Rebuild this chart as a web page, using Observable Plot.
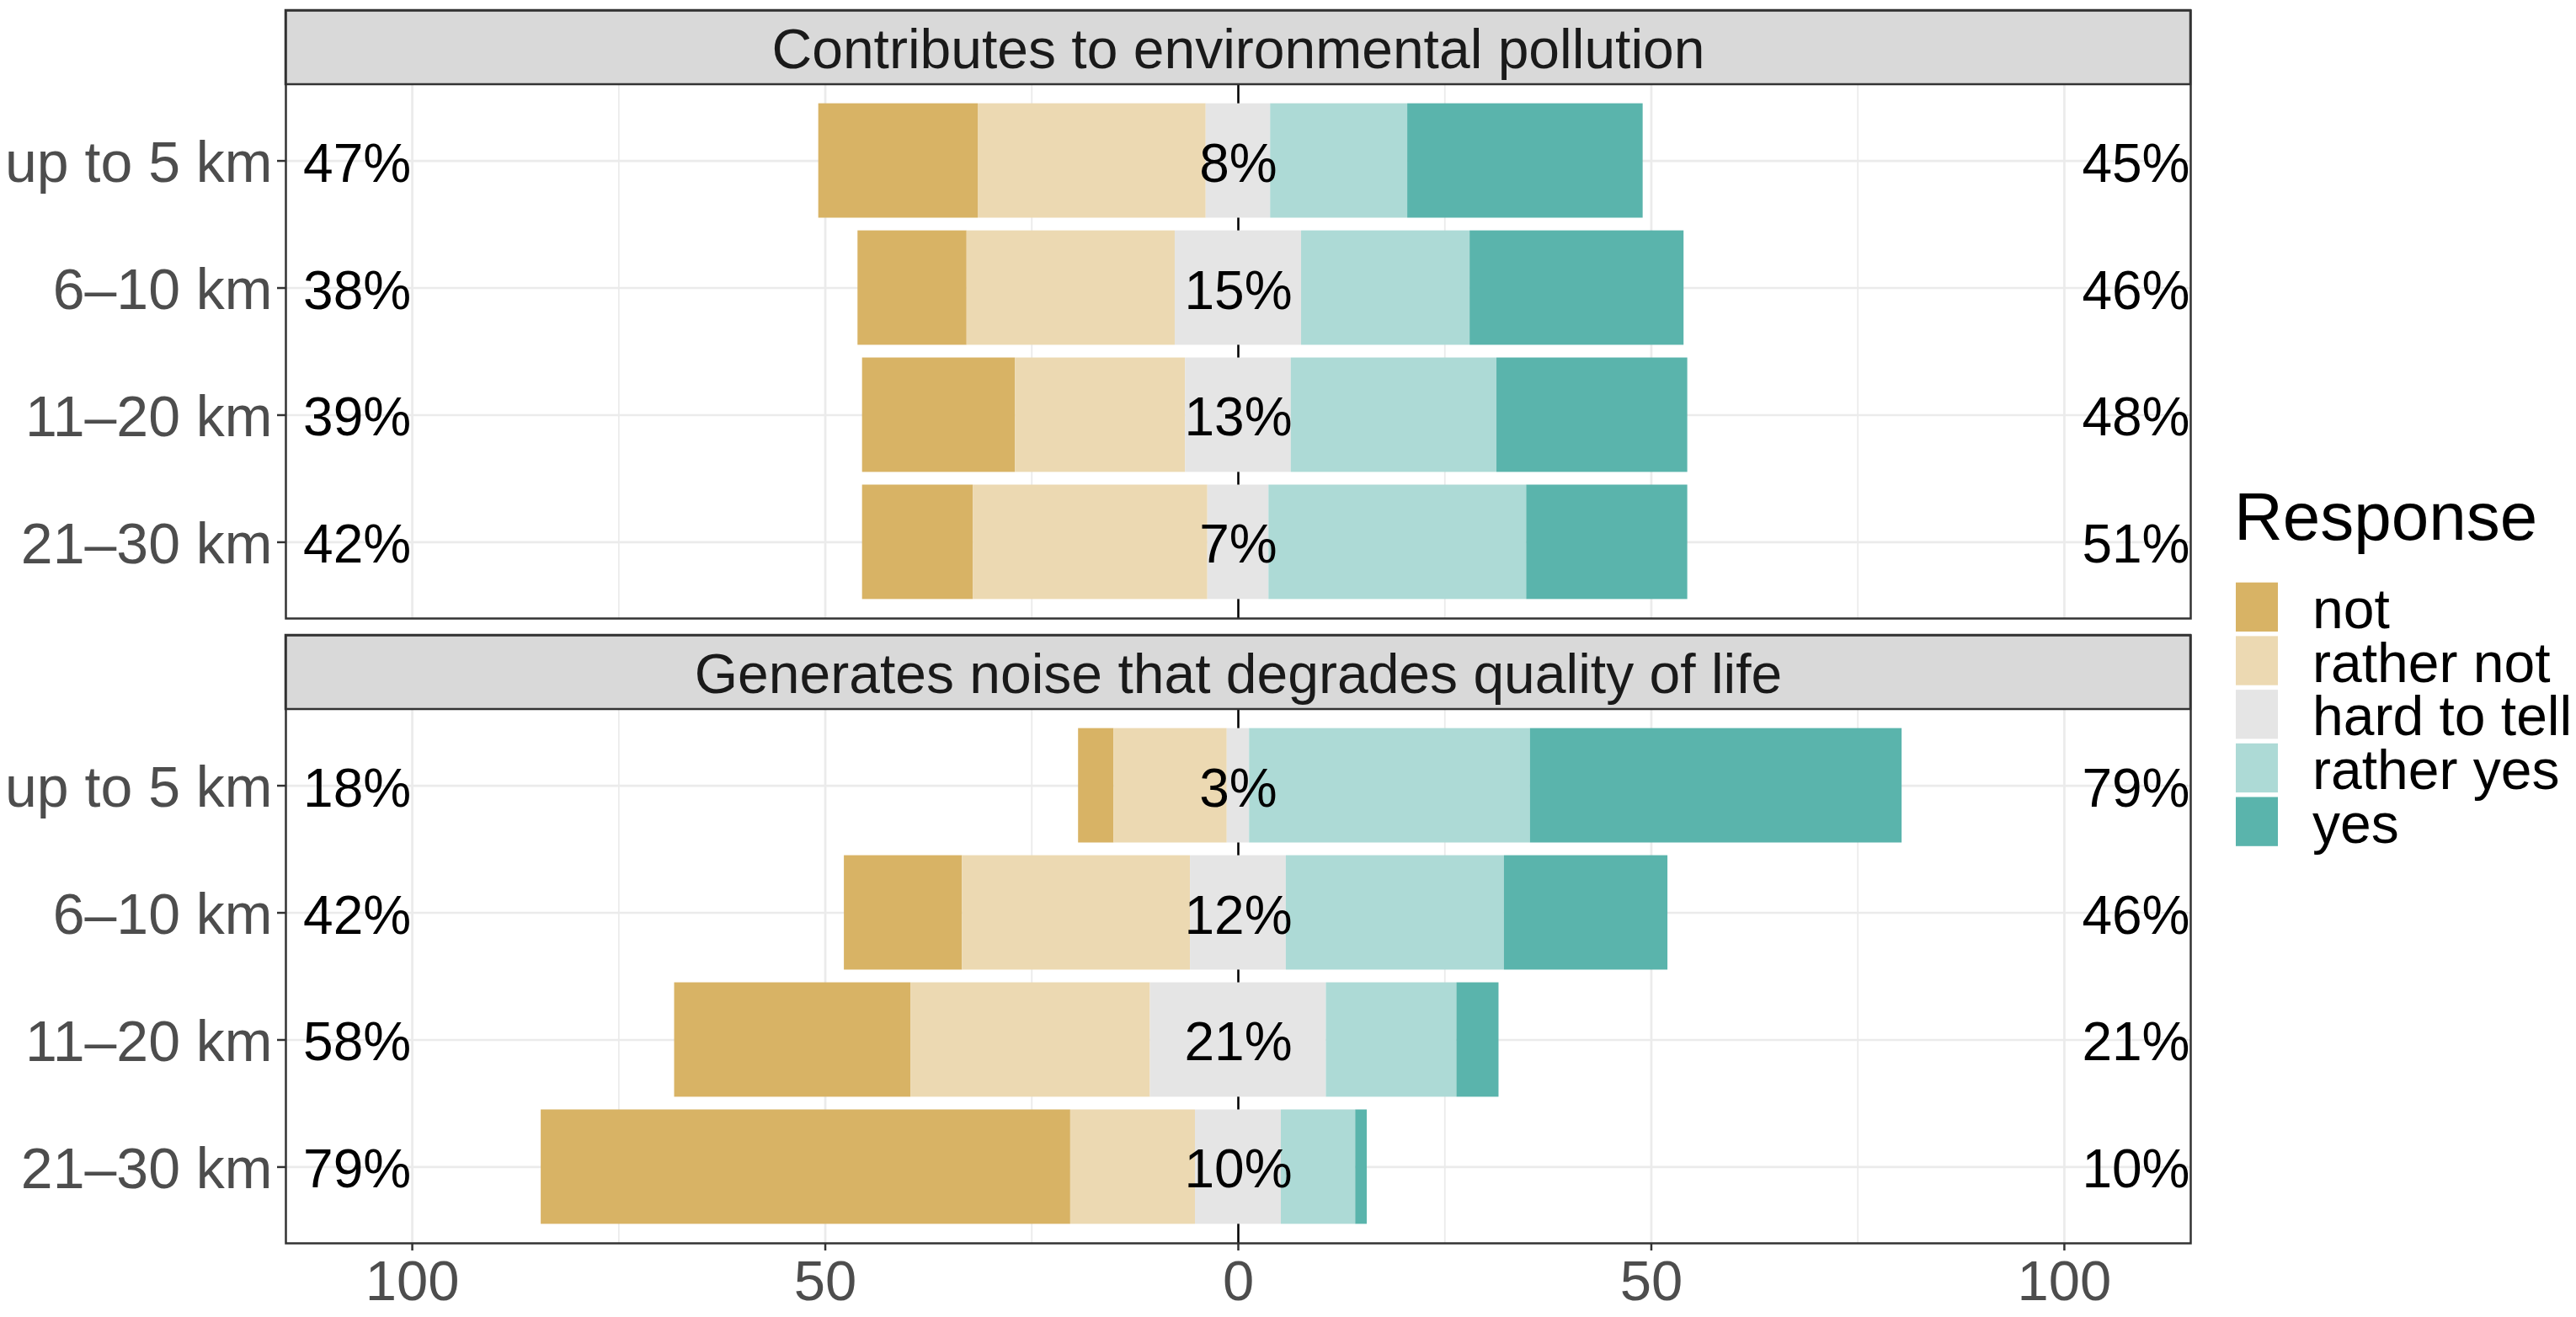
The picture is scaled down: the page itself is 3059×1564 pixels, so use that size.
<!DOCTYPE html>
<html>
<head>
<meta charset="utf-8">
<script src="https://cdn.jsdelivr.net/npm/d3@7"></script>
<script src="https://cdn.jsdelivr.net/npm/@observablehq/plot@0.6"></script>
<style>
html, body { margin: 0; padding: 0; background: #fff; }
#wrap { position: relative; width: 3059px; height: 1564px; overflow: hidden; background: #fff; }
#chart { position: absolute; left: 0; top: 0; }
#legend { position: absolute; left: 2620px; top: 0; }
</style>
</head>
<body>
<div id="wrap"><div id="chart"></div><svg id="legend"></svg></div>
<script>
// ---- data (percent shares) ----
const items = ["Contributes to environmental pollution", "Generates noise that degrades quality of life"];
const distances = ["up to 5 km", "6–10 km", "11–20 km", "21–30 km"];
const responses = ["not", "rather not", "hard to tell", "rather yes", "yes"];
const colors = ["#D8B365", "#ECD9B2", "#E5E5E5", "#ADDAD6", "#5AB4AC"];
// order: item 1 (4 distances), then item 2 (4 distances)
const notShare   = [19.3, 13.2, 18.5, 13.4,  4.3, 14.3, 28.6, 64.1];
const ratherNot  = [27.6, 25.2, 20.6, 28.4, 13.7, 27.6, 29.0, 15.1];
const hardToTell = [ 7.8, 15.3, 12.8,  7.4,  2.7, 11.6, 21.3, 10.4];
const ratherYes  = [16.6, 20.4, 24.9, 31.2, 34.0, 26.4, 15.8,  9.0];
const yesShare   = [28.5, 25.9, 23.1, 19.5, 45.0, 19.8,  5.1,  1.4];
const majorTicks = [-100, -50, 0, 50, 100];
const minorTicks = [-75, -25, 25, 75];

// ---- derived tables ----
const rows = items.flatMap((item, i) => distances.map((dist, j) => {
  const k = i * distances.length + j;
  return {item, dist, values: [notShare[k], ratherNot[k], hardToTell[k], ratherYes[k], yesShare[k]]};
}));
const segments = rows.flatMap(r => {
  let x = -(r.values[0] + r.values[1] + r.values[2] / 2);
  return r.values.map((v, s) => {
    const seg = {item: r.item, dist: r.dist, response: responses[s], x1: x, x2: x + v};
    x += v;
    return seg;
  });
});
const labels = rows.map(r => ({
  item: r.item, dist: r.dist,
  left: Math.round(r.values[0] + r.values[1]) + "%",
  mid: Math.round(r.values[2]) + "%",
  right: Math.round(r.values[3] + r.values[4]) + "%"
}));

const FONT = "'Liberation Sans', Arial, sans-serif";
const W = 2620, H = 1564;
const stripH = 88, panelH = 634;
const xDomain = [-115.3, 115.3];

const chart = Plot.plot({
  width: W, height: H,
  marginLeft: 339, marginRight: W - 2601, marginTop: 12, marginBottom: 88,
  style: {fontFamily: FONT, fontSize: "66px", background: "white"},
  x: {domain: xDomain, label: null},
  y: {domain: distances, paddingInner: 0.1, paddingOuter: 0.15, insetTop: stripH, label: null, round: false},
  fy: {domain: items, paddingInner: 20 / 742, paddingOuter: 0, label: null, axis: null, round: false},
  color: {domain: responses, range: colors},
  marks: [
    Plot.gridX(minorTicks, {stroke: "#EBEBEB", strokeOpacity: 1, strokeWidth: 1.8, insetTop: stripH}),
    Plot.gridX(majorTicks, {stroke: "#EBEBEB", strokeOpacity: 1, strokeWidth: 2.7, insetTop: stripH}),
    Plot.gridY(distances, {stroke: "#EBEBEB", strokeOpacity: 1, strokeWidth: 2.7}),
    Plot.ruleX([0], {stroke: "#000", strokeWidth: 2.5, insetTop: stripH}),
    Plot.barX(segments, {x1: "x1", x2: "x2", y: "dist", fy: "item", fill: "response"}),
    Plot.text(labels, {x: -113.2, y: "dist", fy: "item", text: "left", textAnchor: "start", fill: "#000", fontSize: 64, dy: 4}),
    Plot.text(labels, {x: 0, y: "dist", fy: "item", text: "mid", textAnchor: "middle", fill: "#000", fontSize: 64, dy: 4}),
    Plot.text(labels, {x: 115.2, y: "dist", fy: "item", text: "right", textAnchor: "end", fill: "#000", fontSize: 64, dy: 4}),
    Plot.rect(items, {fy: d => d, x1: xDomain[0], x2: xDomain[1], fill: "#D9D9D9", stroke: "#333333", strokeWidth: 2.5, insetBottom: panelH}),
    Plot.text(items, {fy: d => d, x: 0, text: d => d, frameAnchor: "top", lineAnchor: "middle", dy: stripH / 2 + 3, fill: "#1A1A1A", fontSize: 66}),
    Plot.frame({stroke: "#333333", strokeWidth: 2.5}),
    Plot.axisY({tickSize: 10, stroke: "#333333", strokeWidth: 2.5, fill: "none", label: null}),
    Plot.axisY({tickSize: 10, tickPadding: 6, stroke: "none", fill: "#4D4D4D", fontSize: 68, dy: 3, label: null}),
    Plot.axisX({ticks: majorTicks, tickFormat: d => Math.abs(d), tickSize: 9, tickPadding: 11, stroke: "#333333", strokeWidth: 2.5, fill: "#4D4D4D", fontSize: 67, label: null})
  ]
});
document.getElementById("chart").appendChild(chart);

// ---- legend ----
const lg = d3.select("#legend").attr("width", 439).attr("height", 1564)
  .style("font-family", FONT);
lg.append("text").attr("x", 33).attr("y", 641).attr("font-size", 80).attr("fill", "#000").text("Response");
responses.forEach((r, i) => {
  const top = 691.7 + 63.7 * i;
  lg.append("rect").attr("x", 35).attr("y", top).attr("width", 50).attr("height", 58.3).attr("fill", colors[i]);
  lg.append("text").attr("x", 126).attr("y", top + 29.2 + 25).attr("font-size", 66).attr("fill", "#000").text(r);
});
</script>
</body>
</html>
